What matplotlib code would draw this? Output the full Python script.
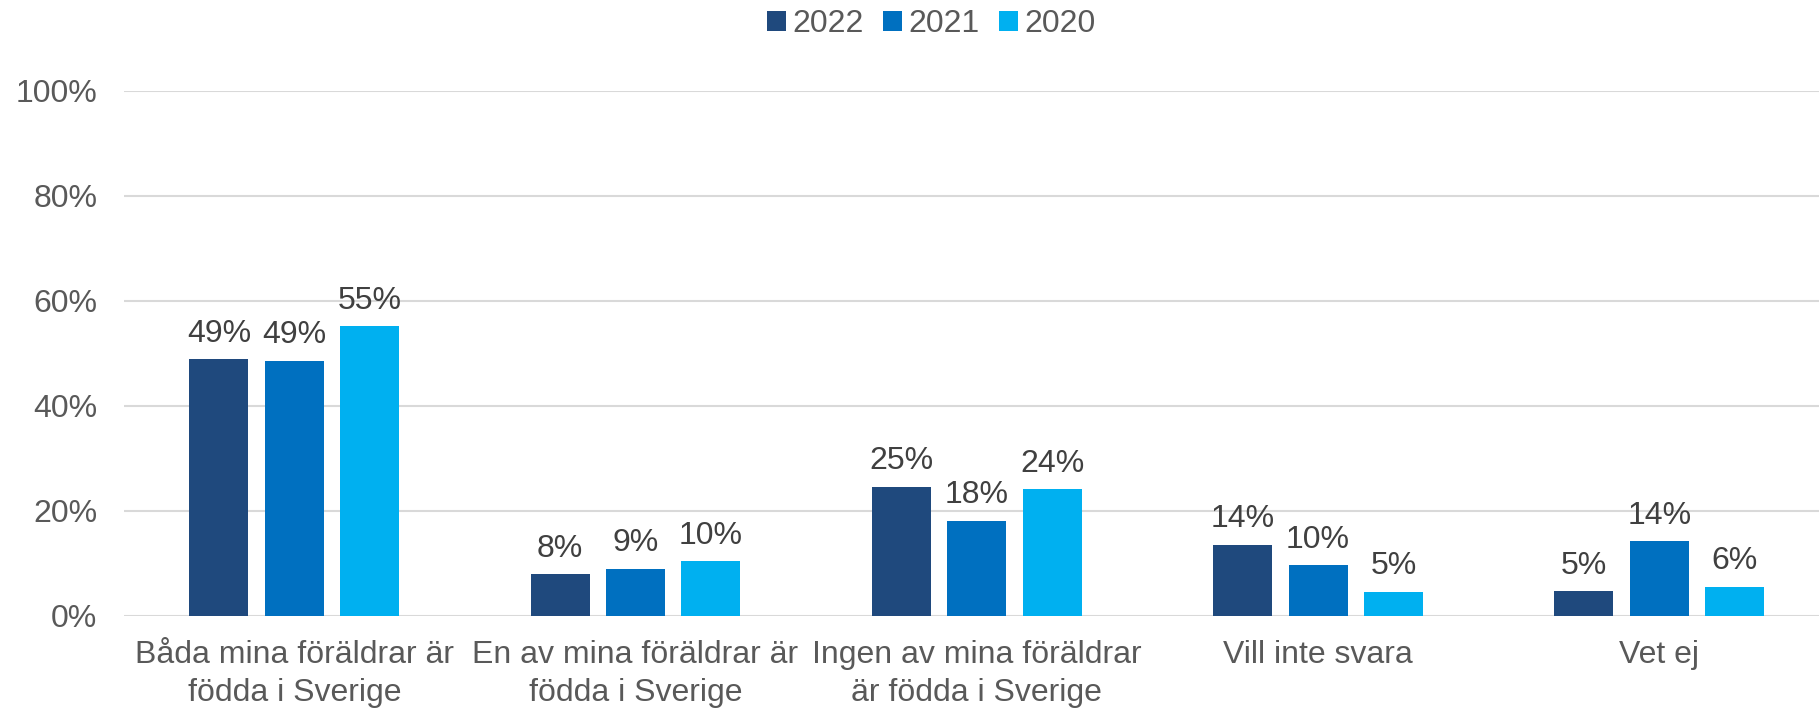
import matplotlib
matplotlib.use("Agg")
import matplotlib.pyplot as plt
import numpy as np

categories = ["Båda mina föräldrar är\nfödda i Sverige",
              "En av mina föräldrar är\nfödda i Sverige",
              "Ingen av mina föräldrar\när födda i Sverige",
              "Vill inte svara",
              "Vet ej"]
series_names = ["2022", "2021", "2020"]
v2022 = [48.9, 7.9, 24.6, 13.6, 4.7]
v2021 = [48.6, 9.0, 18.1, 9.7, 14.2]
v2020 = [55.1, 10.4, 24.1, 4.6, 5.6]
colors = ["#1F497D", "#0070C0", "#00B0F0"]
yticks = [0, 20, 40, 60, 80, 100]
ytick_labels = ["0%", "20%", "40%", "60%", "80%", "100%"]

plt.rcParams['font.family'] = ['Liberation Sans', 'DejaVu Sans']
FS = 23

fig = plt.figure(figsize=(18.19, 7.08), dpi=100)
ax = fig.add_axes([0.068, 0.130, 0.938, 0.742])

x = np.arange(len(categories))
step = 0.221
width = 0.173
handles = []
for i, (vals, name, c) in enumerate(zip([v2022, v2021, v2020], series_names, colors)):
    bars = ax.bar(x + (i - 1) * step, vals, width, color=c, label=name, zorder=3)
    handles.append(bars)
    for b, v in zip(bars, vals):
        ax.annotate(f"{v:.0f}%", (b.get_x() + b.get_width() / 2, v),
                    xytext=(0, 7.5), textcoords="offset points",
                    ha="center", va="bottom", fontsize=FS, color="#404040")

ax.set_xlim(-0.5, len(categories) - 0.5)
ax.set_ylim(0, 100)
ax.set_yticks(yticks)
ax.set_yticklabels(ytick_labels)
ax.set_xticks(x)
ax.set_xticklabels(categories, linespacing=1.35)
ax.tick_params(axis='y', length=0, pad=19, labelsize=FS, labelcolor="#595959")
ax.tick_params(axis='x', length=0, pad=17.5, labelsize=FS, labelcolor="#595959")
ax.grid(axis='y', color="#D9D9D9", linewidth=1.5, zorder=0)
for s in ax.spines.values():
    s.set_visible(False)

fig.legend(handles=handles, labels=series_names, loc="center", bbox_to_anchor=(0.512, 0.966),
           ncol=3, frameon=False, fontsize=FS, labelcolor="#595959",
           handlelength=0.6, handleheight=0.6, handletextpad=0.2, columnspacing=0.6)

fig.savefig("out.png", dpi=100)
